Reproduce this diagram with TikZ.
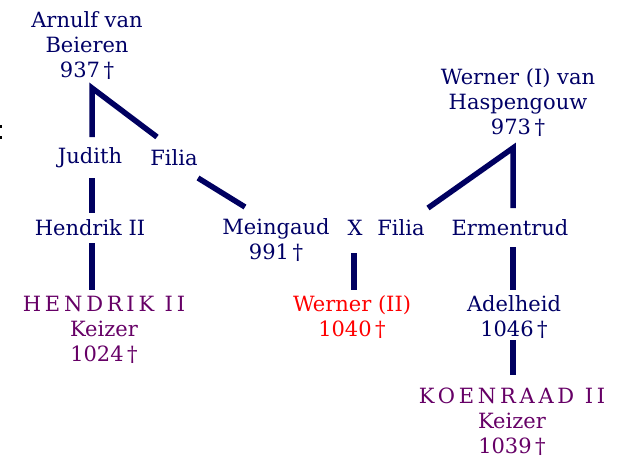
\documentclass[tikz,border=0pt]{standalone}
\usepackage{fontspec}
\setmainfont{DejaVu Serif}
\definecolor{navy}{RGB}{0,0,102}
\definecolor{linecol}{RGB}{0,0,96}
\definecolor{kpurple}{RGB}{102,0,102}
\definecolor{kred}{RGB}{255,0,0}
\newcommand{\wide}[1]{{\addfontfeature{LetterSpace=18}#1}}
\newcommand{\dg}{\,†}
\tikzset{
  person/.style={inner sep=0pt, align=center, text=navy, font=\fontsize{21}{25}\selectfont},
  emperor/.style={person, text=kpurple},
  heir/.style={person, text=kred},
  link/.style={draw=linecol, line width=5.5pt, line join=miter, line cap=butt},
}
\begin{document}
\begin{tikzpicture}[x=1pt,y=-1pt]
\useasboundingbox (0,0) rectangle (626,461);
% people
\node[person] (arnulf) at (87,46) {Arnulf van\\Beieren\\937\dg};
\node[person] (judith) at (90,158) {Judith};
\node[person] (filia1) at (174,158) {Filia};
\node[person] (hendrik) at (90,228) {Hendrik II};
\node[person] (meingaud) at (276,240) {Meingaud\\991\dg};
\node[person] (x) at (355,228) {X};
\node[person] (filia2) at (401,228) {Filia};
\node[person] (ermentrud) at (510,228) {Ermentrud};
\node[person] (werner1) at (518,103) {Werner (I) van\\Haspengouw\\973\dg};
\node[emperor] (hendrikk) at (104,330) {\wide{HENDRIK II}\\Keizer\\1024\dg};
\node[heir] (werner2) at (352,317) {Werner (II)\\1040\dg};
\node[person] (adelheid) at (514,317) {Adelheid\\1046\dg};
\node[emperor] (koenraad) at (512,422) {\wide{KOENRAAD II}\\Keizer\\1039\dg};
% junction points
\coordinate (aj) at (92,88);
\coordinate (wj) at (513,148);
% connectors
\draw[link] (92,137) -- (aj) -- (157,137);
\draw[link] (92,178) -- (92,213);
\draw[link] (198,178) -- (245,207);
\draw[link] (428,208) -- (wj) -- (513,208);
\draw[link] (354,253) -- (354,290);
\draw[link] (92,243) -- (92,290);
\draw[link] (513,247) -- (513,290);
\draw[link] (513,340) -- (513,375);
% stray marks at the left edge
\fill[black] (0,125) rectangle (2,128);
\fill[black] (0,136) rectangle (2,139);
\end{tikzpicture}
\end{document}
